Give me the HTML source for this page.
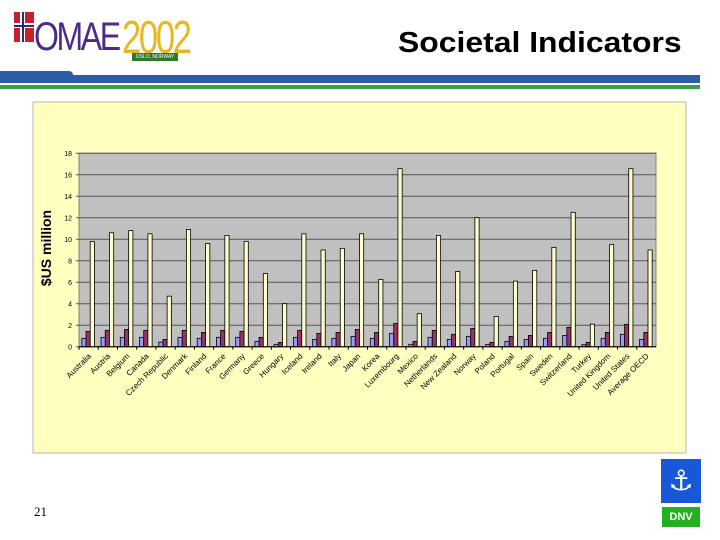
<!DOCTYPE html>
<html><head><meta charset="utf-8"><style>
body{margin:0;width:720px;height:540px;background:#fff;position:relative;overflow:hidden;font-family:"Liberation Sans",sans-serif}
</style></head><body>
<div style="position:absolute;left:12px;top:10px;width:165px;height:55px">
 <div style="position:absolute;left:2px;top:2px;width:20px;height:30px;background:#c8202a"><div style="position:absolute;left:6px;top:0;width:5px;height:30px;background:#fff"></div><div style="position:absolute;left:0;top:11px;width:20px;height:5px;background:#fff"></div><div style="position:absolute;left:7.5px;top:0;width:2px;height:30px;background:#2a2a7a"></div><div style="position:absolute;left:0;top:12.5px;width:20px;height:2px;background:#2a2a7a"></div></div>
 <div style="position:absolute;left:22px;top:5px;font-size:40px;color:#4b2a8a;letter-spacing:-3px;transform:scaleX(0.8);transform-origin:left">OMAE</div>
 <div style="position:absolute;left:110px;top:0px;font-size:46px;color:#e8b820;letter-spacing:-3px;transform:scaleX(0.75);transform-origin:left">2002</div>
 <div style="position:absolute;left:120px;top:43px;width:46px;height:8px;background:#2c7a2c;color:#fff;font-size:5px;text-align:center;line-height:8px">OSLO, NORWAY</div>
</div>
<div style="position:absolute;left:398px;top:27px;font-size:29px;font-weight:bold;color:#000;transform:scaleX(1.1);transform-origin:left">Societal Indicators</div>
<div style="position:absolute;left:0;top:75px;width:700px;height:8px;background:#2a5ea8"></div>
<div style="position:absolute;left:0;top:71px;width:73px;height:6px;background:#2a5ea8;border-radius:0 4px 0 0"></div>
<div style="position:absolute;left:0;top:85px;width:700px;height:4px;background:#3aa04a"></div>
<svg width="720" height="540" style="position:absolute;left:0;top:0" id="chart"></svg>
<div style="position:absolute;left:34px;top:504px;font-family:'Liberation Serif',serif;font-size:13px">21</div>
<div style="position:absolute;left:661px;top:459px;width:40px;height:44px;background:#1858d8;color:#fff;font-size:28px;font-family:'DejaVu Sans',sans-serif;text-align:center;line-height:44px">⚓</div>
<div style="position:absolute;left:662px;top:507px;width:38px;height:20px;background:#22b022;color:#fff;font-weight:bold;font-size:11px;text-align:center;line-height:20px">DNV</div>
<script>
const categories=["Australia","Austria","Belgium","Canada","Czech Republic","Denmark","Finland","France","Germany","Greece","Hungary","Iceland","Ireland","Italy","Japan","Korea","Luxembourg","Mexico","Netherlands","New Zealand","Norway","Poland","Portugal","Spain","Sweden","Switzerland","Turkey","United Kingdom","United States","Average OECD"];
const series1=[0.78,0.87,0.87,0.87,0.43,0.87,0.78,0.87,0.87,0.5,0.22,0.87,0.68,0.78,0.96,0.78,1.24,0.22,0.87,0.68,0.96,0.22,0.5,0.68,0.78,1.05,0.19,0.78,1.15,0.68];
const series2=[1.43,1.52,1.6,1.52,0.68,1.52,1.33,1.52,1.43,0.87,0.4,1.52,1.24,1.33,1.6,1.33,2.17,0.5,1.52,1.15,1.7,0.4,0.96,1.05,1.33,1.8,0.4,1.33,2.08,1.33];
const series3=[9.77,10.6,10.8,10.5,4.7,10.9,9.6,10.35,9.8,6.8,4.0,10.5,9.0,9.15,10.5,6.26,16.56,3.07,10.35,7.0,12.0,2.8,6.1,7.1,9.24,12.5,2.1,9.5,16.56,9.0];
const yTicks=[0,2,4,6,8,10,12,14,16,18];
const NS="http://www.w3.org/2000/svg";
const svg=document.getElementById('chart');
const L=79,R=656,T=153.2,B=346.7,YMAX=18;
const cw=(R-L)/categories.length;
const y=v=>B-(v/YMAX)*(B-T);
const x=i=>L+i*cw;
function mk(t,a){const e=document.createElementNS(NS,t);for(const k in a)e.setAttribute(k,a[k]);svg.appendChild(e);return e;}
let p=mk('rect',{x:33,y:102,width:653,height:351,fill:'#ffffc0',stroke:'#888','stroke-width':0.6});


let pa=mk('rect',{x:L,y:T,width:R-L,height:B-T,fill:'#c0c0c0',stroke:'#808080','stroke-width':1});


yTicks.forEach(v=>{
 const g=mk('line',{x1:L-3,x2:R,y1:y(v),y2:y(v),stroke:'#555','stroke-width':1});
 
 
 const t=mk('text',{x:L-7,y:y(v)+3,'font-size':7,'text-anchor':'end',fill:'#000'});
 t.textContent=v;
 
 
});
const bw=4.2;
const cols=['#9999ff','#993366','#ffffcc'];
[series1,series2,series3].forEach((s,si)=>{
 s.forEach((v,i)=>{
  const bx=x(i)+cw/2-6.8+si*bw;
  const r=mk('rect',{x:bx,y:y(v),width:bw,height:B-y(v),fill:cols[si],stroke:'#000','stroke-width':0.8});
  
  
 });
});
categories.forEach((c,i)=>{
 const tk=mk('line',{x1:x(i),x2:x(i),y1:B,y2:B+3,stroke:'#000'});
 
 
 const cx=x(i)+cw/2+3, cy=B+10;
 const t=mk('text',{x:cx,y:cy,'font-size':8,'text-anchor':'end',transform:`rotate(-45 ${cx} ${cy})`});
 t.textContent=c;
 
 
});
mk('line',{x1:L,x2:R,y1:B,y2:B,stroke:'#000'});
const yt=mk('text',{x:51,y:248,'font-size':14,'font-weight':'bold','text-anchor':'middle',transform:'rotate(-90 51 248)'});
yt.textContent='$US million';


</script>
</body></html>
